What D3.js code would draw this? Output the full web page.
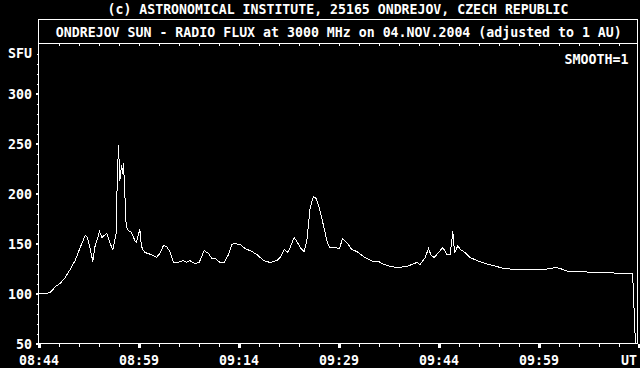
<!DOCTYPE html>
<html>
<head>
<meta charset="utf-8">
<script src="https://cdn.jsdelivr.net/npm/d3@7"></script>
<style>
  html, body { margin: 0; padding: 0; background: #000; }
  svg { display: block; }
  text { font-family: "DejaVu Sans Mono", "Liberation Mono", monospace; font-weight: bold; fill: #fff; }
</style>
</head>
<body>
<svg id="fluxsvg" width="640" height="368"></svg>
<script>
// minutes after 08:44 UT
var timeMin = [0, 1, 1.75, 2.05, 2.5, 3.25, 4, 4.75, 5.5, 6.25, 7, 7.35, 7.75, 8.15, 8.5, 8.85, 9.15, 9.5, 9.85, 10.25,
	10.75, 11.15, 11.5, 11.65, 11.8, 12, 12.2, 12.45, 12.6, 12.75, 12.95, 13.15, 13.45, 13.95, 14.45, 14.7, 14.95, 15.2, 15.35, 15.55,
	15.95, 16.45, 17.2, 17.7, 18.2, 18.75, 19.2, 19.7, 20.25, 20.95, 21.7, 22.2, 22.65, 23.5, 24.1, 24.85, 25.5, 26, 26.5, 27.25,
	27.85, 28.5, 29, 29.35, 30.25, 31, 32, 32.75, 33.75, 34.75, 35.75, 36.25, 36.85, 37.35, 37.75, 38.35, 38.85, 39.25, 39.85, 40.25,
	40.75, 41.25, 41.65, 42.15, 42.75, 43.25, 43.65, 44.5, 45.15, 45.6, 46.25, 47, 47.75, 48.75, 49.5, 50.25, 51, 51.55, 52.25, 53.75,
	55.25, 56, 56.75, 57.25, 58, 58.5, 58.9, 59.35, 60, 60.65, 61.25, 61.75, 62, 62.15, 62.4, 62.65, 62.9, 63.25, 64, 64.75,
	65.75, 67, 68.25, 69.75, 71.75, 74.25, 75.75, 76.75, 77.5, 78.25, 79.5, 81.25, 83.25, 85.25, 87.25, 89.1, 89.25, 89.4, 89.55];

// solar flux units
var fluxSfu = [100, 100, 101, 103, 107, 110, 116, 124, 133, 146, 158, 156, 145, 132, 148, 155, 162, 156, 158, 160,
	150, 144, 155, 160, 210, 248, 213, 228, 220, 230, 200, 168, 163, 161, 153, 151, 158, 164, 153, 145,
	141, 140, 138, 136, 140, 148, 147, 142, 131, 131, 133, 131, 133, 130, 131, 143, 140, 135, 135, 131,
	131, 139, 149, 150, 149, 145, 142, 139, 133, 131, 133, 136, 144, 141, 146, 156, 151, 146, 142, 153,
	186, 197, 195, 185, 168, 153, 146, 146, 145, 155, 151, 144, 142, 137, 134, 132, 132, 130, 128, 126,
	127, 129, 131, 129, 136, 145, 138, 136, 141, 146, 139, 139, 153, 162, 141, 144, 148, 144, 141, 136,
	133, 130, 128, 125, 124, 124, 124, 125, 126, 125, 122, 122, 121, 121, 120, 120, 101, 71, 50];

var xTickValues = [0, 15, 30, 45, 60, 75];
var xTickLabels = ["08:44", "08:59", "09:14", "09:29", "09:44", "09:59"];
var yTickValues = [50, 100, 150, 200, 250, 300];
var yTickLabels = ["50", "100", "150", "200", "250", "300"];

var plotLeft = 38.5, plotRight = 637.5, plotTop = 43.5, plotBottom = 343.5, boxTop = 19.5;

var svg = d3.select("#fluxsvg");

svg.append("rect")
	.attr("width", 640)
	.attr("height", 368)
	.attr("fill", "#000");

var x = d3.scaleLinear()
	.domain([0, 90])
	.range([plotLeft, plotLeft + 600]);

var y = d3.scaleLinear()
	.domain([50, 350])
	.range([plotBottom, plotTop]);

// frame + title box
svg.append("rect")
	.attr("x", plotLeft)
	.attr("y", boxTop)
	.attr("width", plotRight - plotLeft)
	.attr("height", plotBottom - boxTop)
	.attr("fill", "none")
	.attr("stroke", "#fff")
	.attr("shape-rendering", "crispEdges");

svg.append("line")
	.attr("x1", plotLeft).attr("x2", plotRight)
	.attr("y1", plotTop).attr("y2", plotTop)
	.attr("stroke", "#fff")
	.attr("shape-rendering", "crispEdges");

function styleAxis(g, width) {
	g.select(".domain").remove();
	g.selectAll("line")
		.attr("stroke", "#fff")
		.attr("stroke-width", width)
		.attr("shape-rendering", "crispEdges");
	g.selectAll("text")
		.attr("font-family", null)
		.attr("font-size", null)
		.style("font-size", "13.3px");
}

// minor ticks
svg.append("g")
	.attr("transform", "translate(" + plotLeft + ",0)")
	.call(d3.axisLeft(y).tickValues(d3.range(60, 350, 10)).tickSize(2).tickFormat(""))
	.call(styleAxis, 1);

svg.append("g")
	.attr("transform", "translate(0," + plotBottom + ")")
	.call(d3.axisBottom(x).tickValues(d3.range(3, 90, 3)).tickSize(3).tickFormat(""))
	.call(styleAxis, 1);

svg.append("g")
	.attr("transform", "translate(0," + plotTop + ")")
	.call(d3.axisBottom(x).tickValues(d3.range(3, 90, 3)).tickSize(2).tickFormat(""))
	.call(styleAxis, 1);

// major ticks + labels
svg.append("g")
	.attr("transform", "translate(" + plotLeft + ",0)")
	.call(d3.axisLeft(y).tickValues(yTickValues).tickSize(3).tickPadding(3.5)
		.tickFormat(function(d, i) { return yTickLabels[i]; }))
	.call(styleAxis, 2.5)
	.selectAll("text")
		.attr("dy", "0.36em");

svg.append("g")
	.attr("transform", "translate(0," + plotBottom + ")")
	.call(d3.axisBottom(x).tickValues(xTickValues.concat([90])).tickSize(4).tickPadding(8)
		.tickFormat(function(d, i) { return i < xTickLabels.length ? xTickLabels[i] : ""; }))
	.call(styleAxis, 3);

svg.append("text")
	.attr("x", 637)
	.attr("y", 365)
	.attr("text-anchor", "end")
	.style("font-size", "13.3px")
	.text("UT");

svg.append("text")
	.attr("x", 8)
	.attr("y", 57.5)
	.style("font-size", "13.3px")
	.text("SFU");

svg.append("text")
	.attr("x", 338)
	.attr("y", 13.5)
	.attr("text-anchor", "middle")
	.attr("textLength", 461)
	.attr("lengthAdjust", "spacingAndGlyphs")
	.style("font-size", "13.6px")
	.text("(c) ASTRONOMICAL INSTITUTE, 25165 ONDREJOV, CZECH REPUBLIC");

svg.append("text")
	.attr("x", 338.8)
	.attr("y", 37)
	.attr("text-anchor", "middle")
	.attr("textLength", 566)
	.attr("lengthAdjust", "spacingAndGlyphs")
	.style("font-size", "13.3px")
	.text("ONDREJOV SUN - RADIO FLUX at 3000 MHz on 04.NOV.2004 (adjusted to 1 AU)");

svg.append("text")
	.attr("x", 628.5)
	.attr("y", 63.5)
	.attr("text-anchor", "end")
	.style("font-size", "13.3px")
	.text("SMOOTH=1");

var line = d3.line()
	.x(function(d, i) { return x(timeMin[i]); })
	.y(function(d) { return y(d); });

svg.append("path")
	.datum(fluxSfu)
	.attr("d", line)
	.attr("fill", "none")
	.attr("stroke", "#fff")
	.attr("stroke-width", 1)
	.attr("shape-rendering", "crispEdges");
</script>
</body>
</html>
